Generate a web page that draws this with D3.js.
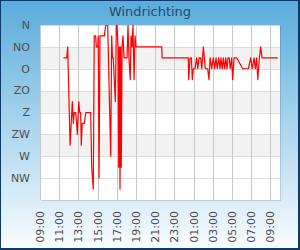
<!DOCTYPE html>
<html>
<head>
<meta charset="utf-8">
<script src="https://cdn.jsdelivr.net/npm/d3@7"></script>
<style>
  body { margin: 0; }
  svg { display: block; }
</style>
</head>
<body>
<script>
// wind direction readings (degrees), 09:00 one day until 10:00 the next
var times = [
    "11:26","11:47","11:53","12:08","12:22","12:28","12:34","12:43","12:49","12:53",
    "13:02","13:08","13:14","13:18","13:24","13:37","13:46","14:17","14:23","14:33",
    "14:39","14:48","14:52","15:01","15:04","15:09","15:15","15:42","15:51","16:03",
    "16:22","16:28","16:33","16:38","16:44","16:51","16:57","17:01","17:08","17:12",
    "17:16","17:20","17:24","17:28","17:33","17:39","17:45","18:04","18:10","18:16",
    "18:24","18:29","18:35","18:41","18:48","18:54","19:00","21:41","21:43","00:27",
    "00:29","00:38","00:46","00:52","00:58","01:09","01:19","01:26","01:34","01:44",
    "01:51","02:01","02:13","02:28","02:36","02:43","02:53","03:03","03:12","03:20",
    "03:28","03:37","03:45","03:51","03:59","04:06","04:14","04:21","04:29","04:35",
    "04:43","04:49","04:58","05:04","05:13","05:29","06:07","06:42","06:57","07:07",
    "07:18","07:26","07:34","07:41","07:51","07:59","08:08","09:46"
];
var directions = [
    67.5, 67.5, 45, 247.5, 157.5, 202.5, 180, 180, 202.5, 225,
    157.5, 180, 180, 247.5, 202.5, 202.5, 180, 180, 292.5, 337.5,
    22.5, 22.5, 45, 45, 22.5, 315, 22.5, 22.5, 0, 0,
    270, 22.5, 67.5, 67.5, 112.5, 157.5, 0, 0, 45, 292.5,
    45, 337.5, 45, 292.5, 45, 22.5, 67.5, 67.5, 0, 67.5,
    112.5, 22.5, 45, 0, 112.5, 22.5, 45, 45, 67.5, 67.5,
    112.5, 67.5, 67.5, 112.5, 90, 90, 67.5, 90, 67.5, 67.5,
    90, 45, 90, 90, 112.5, 67.5, 90, 67.5, 90, 67.5,
    90, 67.5, 90, 67.5, 90, 67.5, 90, 67.5, 90, 67.5,
    67.5, 90, 67.5, 112.5, 67.5, 67.5, 90, 90, 67.5, 90,
    67.5, 90, 67.5, 112.5, 67.5, 45, 67.5, 67.5
];
var timeTicks = ["09:00","11:00","13:00","15:00","17:00","19:00","21:00",
                 "23:00","01:00","03:00","05:00","07:00","09:00"];
var dirLabels = ["N", "NO", "O", "ZO", "Z", "ZW", "W", "NW"];
var dirTicks = [0, 45, 90, 135, 180, 225, 270, 315];

// turn "HH:MM" strings into dates, moving to the next day when the clock wraps
function toDates(list) {
    var day = 0, prev = -1;
    return list.map(function (s) {
        var p = s.split(":").map(Number);
        var mins = p[0] * 60 + p[1];
        if (mins < prev) day++;
        prev = mins;
        return new Date(2013, 0, 1 + day, p[0], p[1]);
    });
}

function init() {
    var w = 300, h = 250;
    var plotLeft = 40, plotRight = 280, plotTop = 25, plotBottom = 200;

    var svg = d3.select("body").append("svg")
        .attr("width", w)
        .attr("height", h);

    var defs = svg.append("defs");
    var grad = defs.append("linearGradient")
        .attr("id", "bg")
        .attr("x1", 0).attr("y1", 0).attr("x2", 0).attr("y2", 1);
    grad.append("stop").attr("offset", "0%").attr("stop-color", "#58acdb");
    grad.append("stop").attr("offset", "100%").attr("stop-color", "#fbfdff");

    defs.append("clipPath").attr("id", "plot")
        .append("rect")
        .attr("x", plotLeft).attr("y", plotTop)
        .attr("width", plotRight - plotLeft).attr("height", plotBottom - plotTop);

    svg.append("rect")
        .attr("width", w).attr("height", h)
        .attr("fill", "url(#bg)");

    var data = toDates(times).map(function (t, i) {
        return { t: t, v: directions[i] };
    });

    var x = d3.scaleTime()
        .domain([new Date(2013, 0, 1, 9, 0), new Date(2013, 0, 2, 10, 0)])
        .range([plotLeft, plotRight]);

    var y = d3.scaleLinear()
        .domain([0, 360])
        .range([plotTop, plotBottom]);

    // plot background with a faint shadow
    svg.append("rect")
        .attr("x", plotLeft + 1).attr("y", plotTop + 1)
        .attr("width", plotRight - plotLeft).attr("height", plotBottom - plotTop)
        .attr("fill", "rgba(0,0,0,0.12)");
    svg.append("rect")
        .attr("x", plotLeft).attr("y", plotTop)
        .attr("width", plotRight - plotLeft).attr("height", plotBottom - plotTop)
        .attr("fill", "#ffffff");

    // alternate bands
    svg.selectAll("rect.band")
        .data(dirTicks.filter(function (d, i) { return i % 2 === 1 && i < 7; }))
        .enter().append("rect")
        .attr("class", "band")
        .attr("x", plotLeft)
        .attr("width", plotRight - plotLeft)
        .attr("y", function (d) { return y(d); })
        .attr("height", function (d) { return y(d + 45) - y(d); })
        .attr("fill", "#f2f2f2");

    // horizontal grid lines
    svg.selectAll("line.hgrid")
        .data(dirTicks)
        .enter().append("line")
        .attr("class", "hgrid")
        .attr("x1", plotLeft).attr("x2", plotRight)
        .attr("y1", function (d) { return Math.round(y(d)) + 0.5; })
        .attr("y2", function (d) { return Math.round(y(d)) + 0.5; })
        .attr("stroke", "#dddddd");

    var tickDates = toDates(timeTicks);

    // vertical grid lines
    svg.selectAll("line.vgrid")
        .data(tickDates)
        .enter().append("line")
        .attr("class", "vgrid")
        .attr("x1", function (d) { return Math.round(x(d)) + 0.5; })
        .attr("x2", function (d) { return Math.round(x(d)) + 0.5; })
        .attr("y1", plotTop).attr("y2", plotBottom)
        .attr("stroke", "#c8c8c8");

    // wind direction line
    var line = d3.line()
        .x(function (d) { return x(d.t); })
        .y(function (d) { return y(d.v); });

    svg.append("path")
        .datum(data)
        .attr("clip-path", "url(#plot)")
        .attr("fill", "none")
        .attr("stroke", "#ff0000")
        .attr("stroke-width", 1.2)
        .attr("stroke-linejoin", "round")
        .attr("d", line);

    // y labels
    svg.selectAll("text.ylab")
        .data(dirTicks)
        .enter().append("text")
        .attr("class", "ylab")
        .attr("x", 30)
        .attr("y", function (d) { return y(d); })
        .attr("dy", "0.35em")
        .attr("text-anchor", "end")
        .attr("font-family", "DejaVu Sans, sans-serif")
        .attr("font-size", 11)
        .attr("fill", "#4d4d4d")
        .text(function (d, i) { return dirLabels[i]; });

    // x labels, rotated
    svg.selectAll("text.xlab")
        .data(tickDates)
        .enter().append("text")
        .attr("class", "xlab")
        .attr("transform", function (d) {
            return "translate(" + (x(d) + 4) + ",211) rotate(-90)";
        })
        .attr("text-anchor", "end")
        .attr("font-family", "DejaVu Sans, sans-serif")
        .attr("font-size", 11)
        .attr("fill", "#4d4d4d")
        .text(function (d, i) { return timeTicks[i]; });

    // title
    svg.append("text")
        .attr("x", w / 2)
        .attr("y", 16)
        .attr("text-anchor", "middle")
        .attr("font-family", "DejaVu Sans, sans-serif")
        .attr("font-size", 13)
        .attr("fill", "#274b6d")
        .text("Windrichting");

    // outer border
    svg.append("rect")
        .attr("x", 0).attr("y", 0)
        .attr("width", w - 1).attr("height", h - 1)
        .attr("fill", "none")
        .attr("stroke", "#0e3a6b")
        .attr("stroke-width", 2);
}
init();
</script>
</body>
</html>
